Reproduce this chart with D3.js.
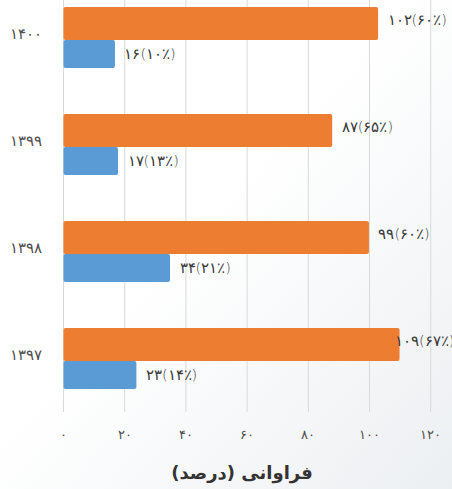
<!DOCTYPE html>
<html><head><meta charset="utf-8">
<script src="https://cdn.jsdelivr.net/npm/d3@7"></script>
<style>
html,body{margin:0;padding:0;background:#fff;}
svg{display:block;}
</style></head>
<body>
<svg id="c" width="452" height="489"></svg>
<script>
const years = ["1400", "1399", "1398", "1397"];
const orangeValues = [102, 87, 99, 109];
const orangePercents = [60, 65, 60, 67];
const blueValues = [16, 17, 34, 23];
const bluePercents = [10, 13, 21, 14];
const xTicks = [0, 20, 40, 60, 80, 100, 120];
const axisTitle = "فراوانی (درصد)";

const fa = s => String(s).replace(/[0-9]/g, d => "۰۱۲۳۴۵۶۷۸۹"[+d]);
const lbl = (v, p) => fa(v) + "(" + fa(p) + "٪)";

const svg = d3.select("#c");
const defs = svg.append("defs");
const g1 = defs.append("linearGradient").attr("id","bg").attr("x1","0").attr("y1","0").attr("x2","1").attr("y2","1");
g1.append("stop").attr("offset","0.45").attr("stop-color","#ffffff");
g1.append("stop").attr("offset","1").attr("stop-color","#eceff2");
svg.append("rect").attr("width",452).attr("height",489).attr("fill","url(#bg)");

const x = d3.scaleLinear().domain([0,120]).range([63.5, 430.7]);
const y = d3.scaleBand().domain(years).range([-16, 412]).paddingInner(0.43).paddingOuter(0.215);

// grid
svg.append("g").selectAll("line").data(xTicks).join("line")
  .attr("x1", d => x(d)).attr("x2", d => x(d))
  .attr("y1", 0).attr("y2", 412)
  .attr("stroke", "#d9d9d9").attr("stroke-width", 1);

const bw = y.bandwidth();
const oh = bw * 0.54, bh = bw * 0.46;
const data = years.map((yr, i) => ({yr, o: orangeValues[i], op: orangePercents[i], b: blueValues[i], bp: bluePercents[i]}));

const bars = svg.append("g");
bars.selectAll("rect.o").data(data).join("rect").attr("class","o")
  .attr("x", x(0)).attr("y", d => y(d.yr))
  .attr("width", d => x(d.o) - x(0) + 2.5).attr("height", oh)
  .attr("rx", 2).attr("fill", "#ED7D31");
bars.selectAll("rect.b").data(data).join("rect").attr("class","b")
  .attr("x", x(0)).attr("y", d => y(d.yr) + oh)
  .attr("width", d => x(d.b) - x(0) + 2.5).attr("height", bh)
  .attr("rx", 2).attr("fill", "#5B9BD5");

const font = "'DejaVu Sans', 'Noto Sans', sans-serif";
const labels = svg.append("g").attr("font-family", font).attr("font-size", 14.5).attr("font-weight", 200).attr("fill", "#3a3a3a");
labels.selectAll("text.o").data(data).join("text").attr("class","o")
  .attr("x", d => Math.min(x(d.o) + 12, 395)).attr("y", d => y(d.yr) + oh/2 - 2)
  .attr("dominant-baseline","middle").attr("direction","ltr")
  .text(d => lbl(d.o, d.op));
labels.selectAll("text.b").data(data).join("text").attr("class","b")
  .attr("x", d => x(d.b) + 12).attr("y", d => y(d.yr) + oh + bh/2 + 1)
  .attr("dominant-baseline","middle").attr("direction","ltr")
  .text(d => lbl(d.b, d.bp));

// category axis labels
svg.append("g").attr("font-family", font).attr("font-size", 15).attr("font-weight", 200).attr("fill", "#505050")
  .selectAll("text").data(years).join("text")
  .attr("x", 42).attr("y", d => y(d) + bw/2 - 3)
  .attr("text-anchor","end").attr("dominant-baseline","middle")
  .text(d => fa(d));

// x axis tick labels
svg.append("g").attr("font-family", font).attr("font-size", 13).attr("font-weight", 200).attr("fill", "#505050")
  .selectAll("text").data(xTicks).join("text")
  .attr("x", d => x(d)).attr("y", 435)
  .attr("text-anchor","middle").attr("dominant-baseline","middle")
  .text(d => fa(d));

svg.append("text").attr("x", 242).attr("y", 474)
  .attr("text-anchor","middle").attr("dominant-baseline","middle")
  .attr("font-family", font).attr("font-size", 18).attr("font-weight","bold").attr("fill","#333")
  .text(axisTitle);
</script>
</body></html>
